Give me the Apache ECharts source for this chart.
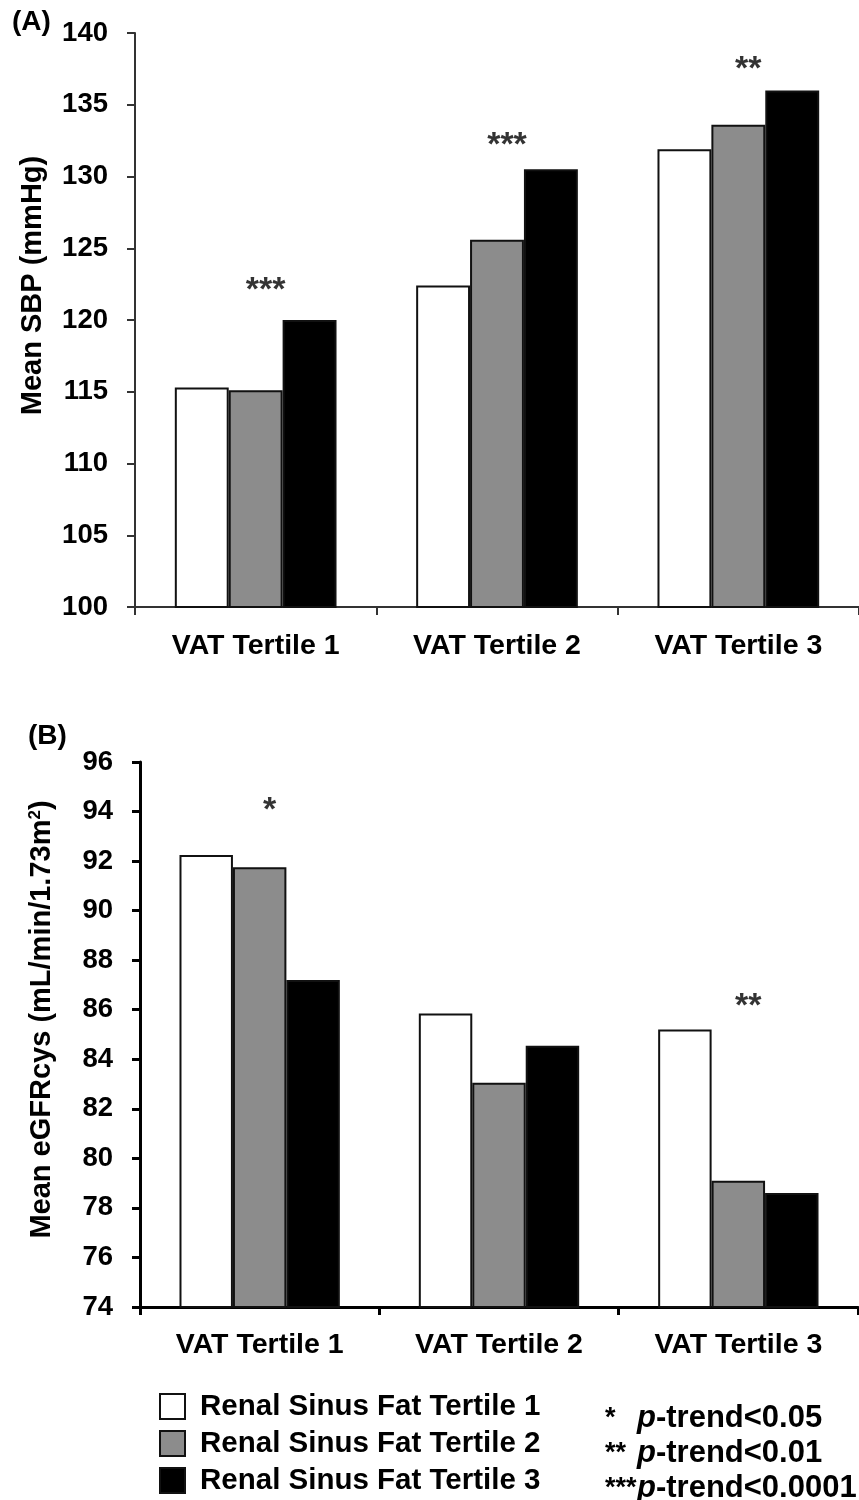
<!DOCTYPE html>
<html>
<head>
<meta charset="utf-8">
<title>SBP and eGFRcys by VAT and renal sinus fat tertiles</title>
<script src="https://cdn.jsdelivr.net/npm/echarts@6/dist/echarts.min.js"></script>
<style>
  html, body { margin: 0; padding: 0; background: #fff; }
  #chart { width: 859px; height: 1500px; }
</style>
</head>
<body>
<div id="chart"></div>
<script>
// data
var categories = ['VAT Tertile 1', 'VAT Tertile 2', 'VAT Tertile 3'];
var seriesNames = ['Renal Sinus Fat Tertile 1', 'Renal Sinus Fat Tertile 2', 'Renal Sinus Fat Tertile 3'];

// (A) mean SBP, mmHg
var sbpT1 = [115.3, 122.4, 131.9];
var sbpT2 = [115.1, 125.6, 133.6];
var sbpT3 = [120.0, 130.5, 136.0];
var sbpStars = ['***', '***', '**'];
var sbpStarY = [122.7, 132.75, 138.1];

// (B) mean eGFRcys, mL/min/1.73m2
var egfrT1 = [92.25, 85.85, 85.2];
var egfrT2 = [91.75, 83.05, 79.1];
var egfrT3 = [87.2, 84.55, 78.6];
var egfrStars = ['*', '', '**'];
var egfrStarY = [94.4, null, 86.5];

var pTrendStars = ['*', '**', '***'];
var pTrendText = ['-trend<0.05', '-trend<0.01', '-trend<0.0001'];

var FONT = '"Liberation Sans", Arial, Helvetica, sans-serif';
var fills = ['#ffffff', '#8c8c8c', '#000000'];

var chart = echarts.init(document.getElementById('chart'), null, { renderer: 'canvas' });

function barSeries(values, i, g) {
    return {
        type: 'bar',
        name: seriesNames[i],
        xAxisIndex: g,
        yAxisIndex: g,
        barGap: '0%',
        barCategoryGap: '33%',
        silent: true,
        itemStyle: { color: fills[i], borderColor: '#111', borderWidth: 2 },
        data: values
    };
}

function starSeries(labels, ys, g) {
    var pts = [];
    for (var i = 0; i < labels.length; i++) {
        if (labels[i]) pts.push({ value: [i, ys[i]], name: labels[i] });
    }
    return {
        type: 'scatter',
        xAxisIndex: g,
        yAxisIndex: g,
        symbolSize: 0,
        silent: true,
        label: {
            show: true,
            position: 'inside',
            offset: [10, 9],
            formatter: function (p) { return p.name; },
            fontFamily: FONT,
            fontSize: 34,
            fontWeight: 'bold',
            color: '#000'
        },
        data: pts
    };
}

function yAxis(g, name, min, max, step, gap, shift, lineW, lineC) {
    return {
        gridIndex: g,
        type: 'value',
        min: min,
        max: max,
        interval: step,
        name: name,
        nameLocation: 'middle',
        nameGap: gap,
        nameTextStyle: {
            fontFamily: FONT, fontSize: 29, fontWeight: 'bold', color: '#000',
            padding: [0, 0, 0, shift],
            rich: { sup: { fontFamily: FONT, fontSize: 17, fontWeight: 'bold', color: '#000', verticalAlign: 'top' } }
        },
        splitLine: { show: false },
        axisLine: { show: true, lineStyle: { color: lineC, width: lineW } },
        axisTick: { show: true, length: 8, lineStyle: { color: lineC, width: lineW } },
        axisLabel: { fontFamily: FONT, fontSize: 27.5, fontWeight: 'bold', color: '#000', margin: 27 }
    };
}

function xAxis(g, lineW, lineC, margin) {
    return {
        gridIndex: g,
        type: 'category',
        data: categories,
        axisLine: { show: true, lineStyle: { color: lineC, width: lineW } },
        axisTick: { show: true, length: 8, lineStyle: { color: lineC, width: lineW } },
        axisLabel: { fontFamily: FONT, fontSize: 28.5, fontWeight: 'bold', color: '#000', margin: margin }
    };
}

var legendLines = [];
for (var k = 0; k < pTrendStars.length; k++) {
    legendLines.push('{s|' + pTrendStars[k] + '}{p|p}{t|' + pTrendText[k] + '}');
}

var option = {
    backgroundColor: '#fff',
    animation: false,
    grid: [
        { left: 135, top: 33, width: 730, height: 574 },
        { left: 140, top: 762, width: 718, height: 545 }
    ],
    xAxis: [xAxis(0, 2, '#333', 25), xAxis(1, 3, '#000', 24)],
    yAxis: [
        yAxis(0, 'Mean SBP (mmHg)', 100, 140, 5, 88, 69, 2, '#333'),
        yAxis(1, 'Mean eGFRcys (mL/min/1.73m{sup|2})', 74, 96, 2, 84, 30, 3, '#000')
    ],
    legend: {
        orient: 'vertical',
        left: 159,
        top: 1391,
        padding: 0,
        itemWidth: 25,
        itemHeight: 25,
        itemGap: 6,
        icon: 'rect',
        selectedMode: false,
        itemStyle: { borderColor: '#111', borderWidth: 2 },
        textStyle: {
            fontFamily: FONT, fontSize: 29.5, fontWeight: 'bold', color: '#000',
            lineHeight: 31, padding: [0, 0, 0, 10]
        },
        data: seriesNames
    },
    graphic: [
        {
            type: 'text', left: 12, top: 8,
            style: { text: '(A)', font: 'bold 28px ' + FONT, fill: '#000' }
        },
        {
            type: 'text', left: 28, top: 722,
            style: { text: '(B)', font: 'bold 28px ' + FONT, fill: '#000' }
        },
        {
            type: 'text', left: 605, top: 1401,
            style: {
                text: legendLines.join('\n'),
                fill: '#000',
                lineHeight: 35,
                rich: {
                    s: { fontFamily: FONT, fontSize: 27, fontWeight: 'bold', width: 32, lineHeight: 35 },
                    p: { fontFamily: FONT, fontSize: 31, fontWeight: 'bold', fontStyle: 'italic', lineHeight: 35 },
                    t: { fontFamily: FONT, fontSize: 31, fontWeight: 'bold', lineHeight: 35 }
                }
            }
        }
    ],
    series: [
        barSeries(sbpT1, 0, 0),
        barSeries(sbpT2, 1, 0),
        barSeries(sbpT3, 2, 0),
        starSeries(sbpStars, sbpStarY, 0),
        barSeries(egfrT1, 0, 1),
        barSeries(egfrT2, 1, 1),
        barSeries(egfrT3, 2, 1),
        starSeries(egfrStars, egfrStarY, 1)
    ]
};

chart.setOption(option);
</script>
</body>
</html>
